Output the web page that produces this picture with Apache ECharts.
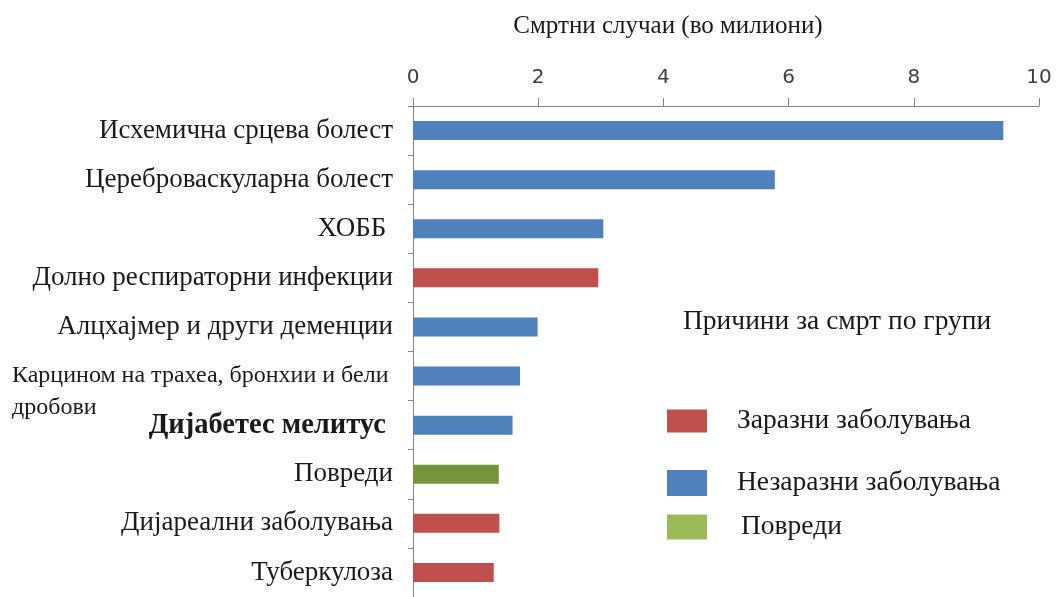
<!DOCTYPE html>
<html>
<head>
<meta charset="utf-8">
<script src="https://cdn.jsdelivr.net/npm/echarts@6/dist/echarts.min.js"></script>
<style>
  html, body { margin: 0; padding: 0; background: #fff; }
  #chart { width: 1057px; height: 597px; }
</style>
</head>
<body>
<div id="chart"></div>
<script>
// Leading causes of death, millions of deaths
const categories = [
  'Исхемична срцева болест',
  'Цереброваскуларна болест',
  'ХОББ ',
  'Долно респираторни инфекции',
  'Алцхајмер и други деменции',
  'Карцином на трахеа, бронхии и бели\nдробови',
  'Дијабетес мелитус ',
  'Повреди',
  'Дијареални заболувања',
  'Туберкулоза'
];
const deaths = [9.43, 5.78, 3.04, 2.96, 1.99, 1.71, 1.59, 1.37, 1.38, 1.29];
const causeGroup = [
  'Незаразни заболувања', 'Незаразни заболувања', 'Незаразни заболувања',
  'Заразни заболувања', 'Незаразни заболувања', 'Незаразни заболувања',
  'Незаразни заболувања', 'Повреди', 'Заразни заболувања', 'Заразни заболувања'
];
const groupNames = ['Заразни заболувања', 'Незаразни заболувања', 'Повреди'];
const boldCategory = 'Дијабетес мелитус ';
const xMin = 0, xMax = 10, xStep = 2;

const barColors = {
  'Заразни заболувања': '#C0504D',
  'Незаразни заболувања': '#4F81BD',
  'Повреди': '#77933C'
};

const serif = '"Liberation Serif", "Times New Roman", serif';
const ink = '#1a1a1a';

const series = groupNames.map(g => ({
  name: g,
  type: 'bar',
  stack: 'causes',
  barWidth: 19,
  itemStyle: { color: barColors[g] },
  data: deaths.map((v, i) => causeGroup[i] === g ? v : '-')
}));

const chart = echarts.init(document.getElementById('chart'), null, { renderer: 'canvas' });

function legendText(topPad, leftPad) {
  return { fontFamily: serif, fontSize: 27.5, color: ink, lineHeight: 28, padding: [topPad, 0, 0, leftPad] };
}
const legendBase = {
  orient: 'vertical',
  left: 667,
  itemWidth: 40,
  selectedMode: false,
  icon: 'rect',
  padding: 0
};

chart.setOption({
  animation: false,
  backgroundColor: '#ffffff',
  title: {
    text: 'Причини за смрт по групи',
    left: 683,
    top: 308,
    padding: 0,
    textStyle: { fontFamily: serif, fontSize: 27.5, fontWeight: 'normal', color: ink }
  },
  legend: [
    Object.assign({}, legendBase, {
      top: 405, itemHeight: 23,
      data: [{ name: 'Заразни заболувања' }],
      textStyle: legendText(4, 25)
    }),
    Object.assign({}, legendBase, {
      top: 464, itemHeight: 26,
      data: [{ name: 'Незаразни заболувања' }],
      textStyle: legendText(10, 25)
    }),
    Object.assign({}, legendBase, {
      top: 511, itemHeight: 25,
      data: [{ name: 'Повреди', itemStyle: { color: '#9BBB59' } }],
      textStyle: legendText(4, 29)
    })
  ],
  grid: { left: 413, right: 18, top: 106, bottom: 0, containLabel: false },
  xAxis: {
    type: 'value',
    position: 'top',
    min: xMin,
    max: xMax,
    interval: xStep,
    name: 'Смртни случаи (во милиони)',
    nameLocation: 'middle',
    nameGap: 67,
    nameTextStyle: {
      fontFamily: serif, fontSize: 25, color: ink,
      padding: [0, 116, 0, 0]
    },
    axisLine: { show: true, lineStyle: { color: '#868686', width: 1 } },
    axisTick: { show: true, length: 8, lineStyle: { color: '#868686' } },
    axisLabel: {
      margin: 18,
      fontFamily: '"DejaVu Sans", Verdana, sans-serif',
      fontSize: 20,
      color: '#404040'
    },
    splitLine: { show: false }
  },
  yAxis: {
    type: 'category',
    inverse: true,
    data: categories,
    axisLine: { show: true, lineStyle: { color: '#868686', width: 1 } },
    axisTick: { show: true, length: 5, lineStyle: { color: '#868686' } },
    axisLabel: {
      margin: 20,
      interval: 0,
      formatter: function (value) {
        if (value.indexOf('\n') >= 0) {
          const parts = value.split('\n');
          return '{gap|}\n' + parts.map(p => '{s|' + p + '}').join('\n');
        }
        if (value === boldCategory) return '{b|' + value + '}';
        return '{n|' + value + '}';
      },
      rich: {
        n: { fontFamily: serif, fontSize: 27, color: ink },
        b: { fontFamily: serif, fontSize: 28.5, fontWeight: 'bold', color: ink },
        s: { fontFamily: serif, fontSize: 24, color: ink, width: 381, align: 'left', lineHeight: 32 },
        gap: { height: 32, lineHeight: 32 }
      }
    }
  },
  series: series
});
</script>
</body>
</html>
